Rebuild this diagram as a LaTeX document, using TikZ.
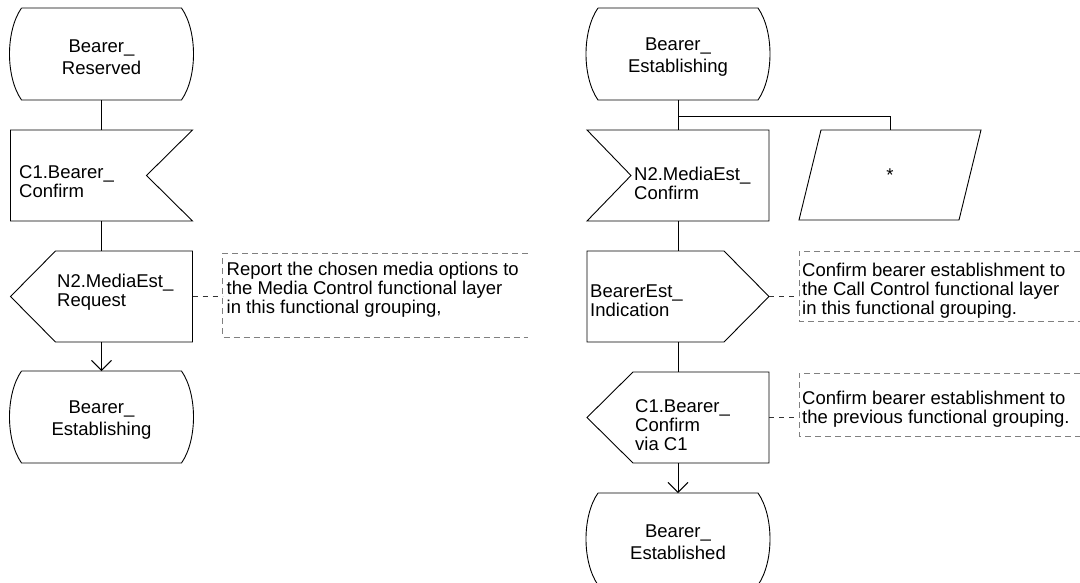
\documentclass[tikz,border=0pt]{standalone}
\usepackage{fontspec}
\setmainfont{Liberation Sans}
\usetikzlibrary{arrows.meta}
\newcommand{\txtsize}{\fontsize{18.5}{19}\selectfont}
\newcommand{\statesize}{\fontsize{18.5}{21.5}\selectfont}
\begin{document}
\begin{tikzpicture}[x=1pt,y=-1pt,
  flow/.style={line width=0.9pt,draw=black},
  arr/.style={flow,-{Straight Barb[length=10pt,width=20pt]}},
  frame/.style={inner sep=0pt,outer sep=0pt,draw=none,minimum width=182pt,minimum height=91pt},
  statebox/.style={inner sep=0pt,outer sep=0pt,draw=none,minimum width=160pt,minimum height=92pt},
  stxt/.style={inner sep=0pt,align=center,font=\statesize},
  parbox/.style={inner sep=0pt,outer sep=0pt,draw=none,minimum width=182pt,minimum height=90pt,font=\txtsize},
  combox/.style={inner sep=0pt,outer sep=0pt,draw=none},
  lbl/.style={anchor=west,inner sep=0pt,align=left,font=\txtsize},
  cline/.style={draw=gray,line width=1pt,dash pattern=on 6pt off 4pt},
  cconn/.style={draw=black!80,line width=0.9pt,dash pattern=on 5pt off 5pt}
]
\useasboundingbox (0,0) rectangle (1080,582);
\newcommand{\stateline}[1]{\draw[flow] (#1.north west) -- (#1.north east)
  .. controls +(16,23) and +(16,-23) .. (#1.south east) -- (#1.south west)
  .. controls +(-16,-23) and +(-16,23) .. (#1.north west);}

% ---------- left column ----------
\node[statebox] (s1) at (101.5,54) {};
\stateline{s1}
\node[stxt] at ([yshift=-3pt]s1.center) {Bearer\_\\Reserved};

\node[frame] (i1) at (101.5,175.5) {};
\draw[flow] (i1.north west) -- (i1.north east) -- ([xshift=-46pt]i1.east) -- (i1.south east) -- (i1.south west) -- cycle;
\node[lbl] at (19,182) {C1.Bearer\_\\Confirm};

\node[frame] (o1) at (101.5,296.5) {};
\draw[flow] ([xshift=45pt]o1.north west) -- (o1.north east) -- (o1.south east) -- ([xshift=45pt]o1.south west) -- (o1.west) -- cycle;
\node[lbl] at (57,292) {N2.MediaEst\_\\Request};

\node[statebox] (s2) at (101.5,417) {};
\stateline{s2}
\node[stxt] at ([yshift=-3pt]s2.center) {Bearer\_\\Establishing};

\draw[flow] (s1.south) -- (i1.north);
\draw[flow] (i1.south) -- (o1.north);
\draw[arr] (o1.south) -- (s2.north);

% comment 1
\node[combox,minimum width=305pt,minimum height=84pt] (c1) at (375,295) {};
\draw[cline] (c1.north east) -- (c1.north west) -- (c1.south west) -- (c1.south east);
\node[lbl] at (226.5,290) {Report the chosen media options to\\the Media Control functional layer\\in this functional grouping,};
\draw[cconn] (o1.east) -- (o1.east -| c1.west);

% ---------- right column ----------
\node[statebox] (s3) at (678,54) {};
\stateline{s3}
\node[stxt] at ([yshift=-3pt]s3.center) {Bearer\_\\Establishing};

\node[frame] (i2) at (678,175.5) {};
\draw[flow] (i2.north west) -- (i2.north east) -- (i2.south east) -- (i2.south west) -- ([xshift=44pt]i2.west) -- cycle;
\node[lbl] at (634,183) {N2.MediaEst\_\\Confirm};

\node[parbox] (p1) at (890,175) {*};
\draw[flow] ([xshift=22pt]p1.north west) -- (p1.north east) -- ([xshift=-22pt]p1.south east) -- (p1.south west) -- cycle;

\coordinate (j1) at (678,116);
\draw[flow] (s3.south) -- (i2.north);
\draw[flow] (j1) -| (p1.north);

\node[frame] (o2) at (678,296.5) {};
\draw[flow] (o2.north west) -- ([xshift=-45pt]o2.north east) -- (o2.east) -- ([xshift=-45pt]o2.south east) -- (o2.south west) -- cycle;
\node[lbl] at (590,301) {BearerEst\_\\Indication};

\node[frame] (o3) at (678,417.5) {};
\draw[flow] ([xshift=46pt]o3.north west) -- (o3.north east) -- (o3.south east) -- ([xshift=46pt]o3.south west) -- (o3.west) -- cycle;
\node[lbl] at (635,425) {C1.Bearer\_\\Confirm\\via C1};

\node[statebox] (s4) at (678,539) {};
\stateline{s4}
\node[stxt] at ([yshift=-3pt]s4.center) {Bearer\_\\Established};

\draw[flow] (i2.south) -- (o2.north);
\draw[flow] (o2.south) -- (o3.north);
\draw[arr] (o3.south) -- (s4.north);

% comment 2
\node[combox,minimum width=281pt,minimum height=70pt] (c2) at (939.5,286) {};
\draw[cline] (c2.north east) -- (c2.north west) -- (c2.south west) -- (c2.south east);
\node[lbl] at (802,291) {Confirm bearer establishment to\\the Call Control functional layer\\in this functional grouping.};
\draw[cconn] (o2.east) -- (o2.east -| c2.west);

% comment 3
\node[combox,minimum width=281pt,minimum height=63pt] (c3) at (939.5,404.5) {};
\draw[cline] (c3.north east) -- (c3.north west) -- (c3.south west) -- (c3.south east);
\node[lbl] at (802,409) {Confirm bearer establishment to\\the previous functional grouping.};
\draw[cconn] (o3.east) -- (o3.east -| c3.west);
\end{tikzpicture}
\end{document}
